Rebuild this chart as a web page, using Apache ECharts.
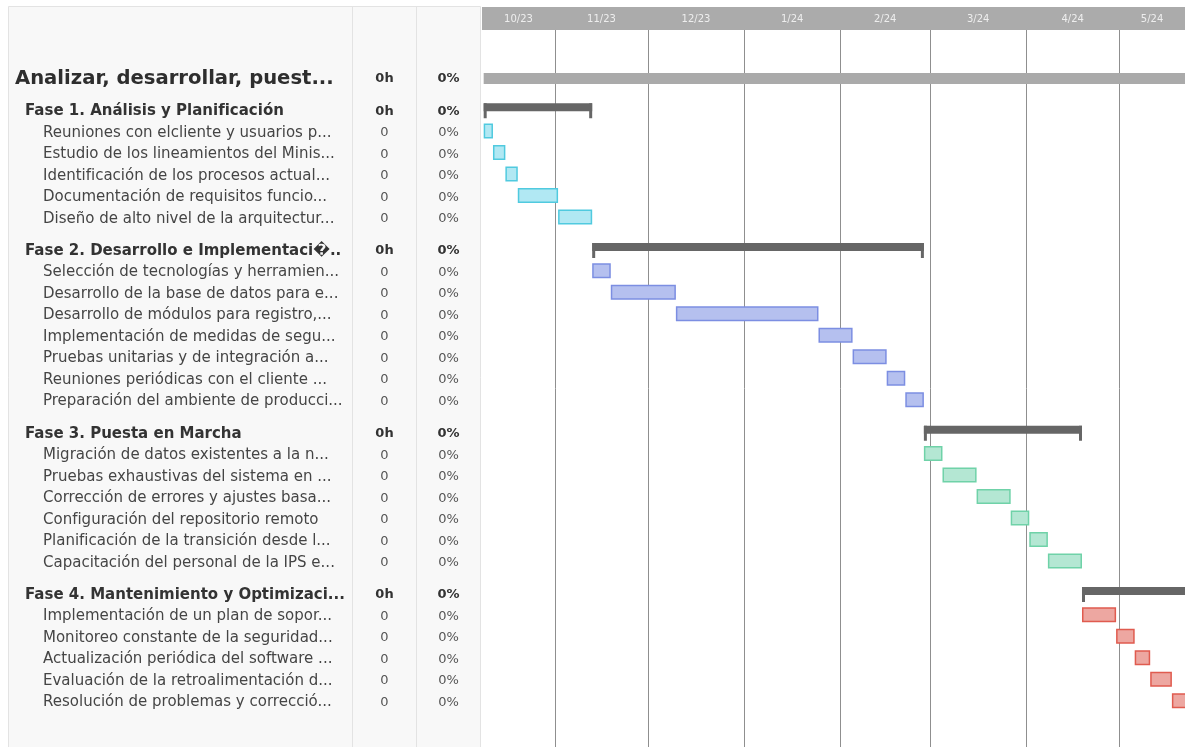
<!DOCTYPE html>
<html lang="es">
<head>
    <meta charset="UTF-8">
    <title>Gantt</title>
    <script src="https://cdn.jsdelivr.net/npm/echarts@6/dist/echarts.min.js"></script>
    <style type="text/css">
        html, body { margin: 0; padding: 0; background: #fff; }
        #chartData { width: 1185px; height: 747px; }
    </style>
</head>
<body>
<div id="chartData"></div>
<script type="text/javascript">
    var projectName = 'Analizar, desarrollar, puest...';
    var projectStart = '2023-10-09', projectEnd = '2024-05-25';

    var phaseNames = [
        'Fase 1. Análisis y Planificación',
        'Fase 2. Desarrollo e Implementaci\uFFFD..',
        'Fase 3. Puesta en Marcha',
        'Fase 4. Mantenimiento y Optimizaci...'
    ];
    var phaseStart = ['2023-10-09', '2023-11-13', '2024-02-28', '2024-04-19'];
    var phaseEnd   = ['2023-11-13', '2024-02-28', '2024-04-19', '2024-05-25'];

    var taskNames = [
        ['Reuniones con elcliente y usuarios p...', 'Estudio de los lineamientos del Minis...', 'Identificación de los procesos actual...',
         'Documentación de requisitos funcio...', 'Diseño de alto nivel de la arquitectur...'],
        ['Selección de tecnologías y herramien...', 'Desarrollo de la base de datos para e...', 'Desarrollo de módulos para registro,...',
         'Implementación de medidas de segu...', 'Pruebas unitarias y de integración a...', 'Reuniones periódicas con el cliente ...',
         'Preparación del ambiente de producci...'],
        ['Migración de datos existentes a la n...', 'Pruebas exhaustivas del sistema en ...', 'Corrección de errores y ajustes basa...',
         'Configuración del repositorio remoto', 'Planificación de la transición desde l...', 'Capacitación del personal de la IPS e...'],
        ['Implementación de un plan de sopor...', 'Monitoreo constante de la seguridad...', 'Actualización periódica del software ...',
         'Evaluación de la retroalimentación d...', 'Resolución de problemas y correcció...']
    ];
    var taskStart = [
        ['2023-10-09', '2023-10-12', '2023-10-16', '2023-10-20', '2023-11-02'],
        ['2023-11-13', '2023-11-19', '2023-12-10', '2024-01-25', '2024-02-05', '2024-02-16', '2024-02-22'],
        ['2024-02-28', '2024-03-05', '2024-03-16', '2024-03-27', '2024-04-02', '2024-04-08'],
        ['2024-04-19', '2024-04-30', '2024-05-06', '2024-05-11', '2024-05-18']
    ];
    var taskEnd = [
        ['2023-10-12', '2023-10-16', '2023-10-20', '2023-11-02', '2023-11-13'],
        ['2023-11-19', '2023-12-10', '2024-01-25', '2024-02-05', '2024-02-16', '2024-02-22', '2024-02-28'],
        ['2024-03-05', '2024-03-16', '2024-03-27', '2024-04-02', '2024-04-08', '2024-04-19'],
        ['2024-04-30', '2024-05-06', '2024-05-11', '2024-05-18', '2024-05-25']
    ];

    var monthStarts = ['2023-10-01', '2023-11-01', '2023-12-01', '2024-01-01', '2024-02-01', '2024-03-01', '2024-04-01', '2024-05-01', '2024-06-01'];
    var monthLabels = ['10/23', '11/23', '12/23', '1/24', '2/24', '3/24', '4/24', '5/24'];

    var fillColors   = ['#b1e8f3', '#b5c0ef', '#b4e7d3', '#eda7a1'];
    var strokeColors = ['#50cadf', '#7c8ee2', '#6fd2a8', '#e05b4f'];

    function t(s) {
        var p = s.split('-');
        return new Date(+p[0], p[1] - 1, +p[2]).getTime();
    }
    var DAY = 864e5;
    var axisMin = t('2023-10-08') + 11 * 3600e3;
    var axisMax = axisMin + 226.77 * DAY;

    // filas: titulo, fases, tareas (posicion en unidades de fila)
    var rows = [], pos = 0;
    rows.push({name: projectName, kind: 0, pos: 0, phase: -1, start: projectStart, end: projectEnd});
    for (var i = 0; i < phaseNames.length; i++) {
        pos += 1.5;
        rows.push({name: phaseNames[i], kind: 1, pos: pos, phase: i, start: phaseStart[i], end: phaseEnd[i]});
        for (var j = 0; j < taskNames[i].length; j++) {
            pos += 1;
            rows.push({name: taskNames[i][j], kind: 2, pos: pos, phase: i, start: taskStart[i][j], end: taskEnd[i][j]});
        }
    }

    var barData = [], textData = [];
    for (var k = 0; k < rows.length; k++) {
        barData.push([t(rows[k].start), t(rows[k].end), rows[k].pos, rows[k].kind, rows[k].phase]);
        textData.push([axisMin, rows[k].pos, k]);
    }
    var gridData = [], headData = [];
    for (var m = 0; m < monthLabels.length; m++) {
        var ms = t(monthStarts[m]), me = t(monthStarts[m + 1]);
        if (ms > axisMin) gridData.push([ms]);
        headData.push([Math.max(ms, axisMin), Math.min(me, axisMax), m]);
    }

    function renderBar(params, api) {
        var s = api.coord([api.value(0), api.value(2)]);
        var e = api.coord([api.value(1), api.value(2)]);
        var kind = api.value(3), ph = api.value(4);
        var x0 = s[0], x1 = e[0], c = s[1];
        if (kind === 0) {
            return {type: 'rect', shape: {x: x0, y: c - 5, width: x1 - x0, height: 11}, style: {fill: '#aaaaaa'}};
        }
        if (kind === 1) {
            var st = {fill: '#666666'};
            return {type: 'group', children: [
                {type: 'rect', shape: {x: x0, y: c - 7, width: x1 - x0, height: 8}, style: st},
                {type: 'rect', shape: {x: x0, y: c - 7, width: 3, height: 15}, style: st},
                {type: 'rect', shape: {x: x1 - 3, y: c - 7, width: 3, height: 15}, style: st}
            ]};
        }
        return {
            type: 'rect',
            shape: {x: x0 + 0.75, y: c - 7.5, width: x1 - x0 - 1.5, height: 13.5},
            style: {fill: fillColors[ph], stroke: strokeColors[ph], lineWidth: 1.5}
        };
    }

    function renderText(params, api) {
        var r = rows[api.value(2)];
        var y = api.coord([api.value(0), api.value(1)])[1] + 1;
        var nameStyle, colStyle, hours;
        if (r.kind === 0) {
            nameStyle = {x: 15, font: 'bold 19.6px "DejaVu Sans"', fill: '#2e2e2e'};
        } else if (r.kind === 1) {
            nameStyle = {x: 25, font: 'bold 15px "DejaVu Sans"', fill: '#333333'};
        } else {
            nameStyle = {x: 43, font: '15px "DejaVu Sans"', fill: '#454545'};
        }
        if (r.kind < 2) {
            colStyle = {font: 'bold 13px "DejaVu Sans"', fill: '#333333'};
            hours = '0h';
        } else {
            colStyle = {font: '13px "DejaVu Sans"', fill: '#555555'};
            hours = '0';
        }
        return {type: 'group', children: [
            {type: 'text', style: {text: r.name, x: nameStyle.x, y: y, font: nameStyle.font, fill: nameStyle.fill, textVerticalAlign: 'middle'}},
            {type: 'text', style: {text: hours, x: 384.5, y: y, font: colStyle.font, fill: colStyle.fill, textAlign: 'center', textVerticalAlign: 'middle'}},
            {type: 'text', style: {text: '0%', x: 448.5, y: y, font: colStyle.font, fill: colStyle.fill, textAlign: 'center', textVerticalAlign: 'middle'}}
        ]};
    }

    function renderGrid(params, api) {
        var x = Math.round(api.coord([api.value(0), 0])[0]) + 0.5;
        var cs = params.coordSys;
        return {type: 'line', shape: {x1: x, y1: cs.y + 23, x2: x, y2: cs.y + cs.height}, style: {stroke: '#8f8f8f', lineWidth: 1}};
    }

    function renderHead(params, api) {
        var a = api.coord([api.value(0), 0])[0];
        var b = api.coord([api.value(1), 0])[0];
        var cs = params.coordSys;
        return {type: 'text', style: {
            text: monthLabels[api.value(2)], x: (a + b) / 2, y: cs.y + 12,
            font: '10px "DejaVu Sans"', fill: '#eeeeee', textAlign: 'center', textVerticalAlign: 'middle'
        }};
    }

    var myChart = echarts.init(document.getElementById('chartData'), null, {renderer: 'canvas'});
    var option = {
        animation: false,
        backgroundColor: '#ffffff',
        grid: {left: 482, right: 0, top: 7, bottom: 0},
        xAxis: {type: 'time', min: axisMin, max: axisMax, show: false},
        yAxis: {type: 'value', inverse: true, min: -3.302, max: 31.116, show: false},
        graphic: [
            {type: 'rect', z: 0, shape: {x: 8.5, y: 6.5, width: 472, height: 760}, style: {fill: '#f8f8f8', stroke: '#e3e3e3', lineWidth: 1}},
            {type: 'line', z: 0, shape: {x1: 352.5, y1: 7, x2: 352.5, y2: 747}, style: {stroke: '#e3e3e3', lineWidth: 1}},
            {type: 'line', z: 0, shape: {x1: 416.5, y1: 7, x2: 416.5, y2: 747}, style: {stroke: '#e3e3e3', lineWidth: 1}},
            {type: 'rect', z: 0, shape: {x: 482, y: 7, width: 703, height: 23}, style: {fill: '#ababab'}}
        ],
        series: [
            {type: 'custom', name: 'grid', renderItem: renderGrid, data: gridData, z: 1, silent: true},
            {type: 'custom', name: 'head', renderItem: renderHead, data: headData, z: 3, silent: true},
            {type: 'custom', name: 'bars', renderItem: renderBar, data: barData, z: 2, clip: false},
            {type: 'custom', name: 'texts', renderItem: renderText, data: textData, z: 3, clip: false, silent: true}
        ]
    };
    myChart.setOption(option);
</script>
</body>
</html>
